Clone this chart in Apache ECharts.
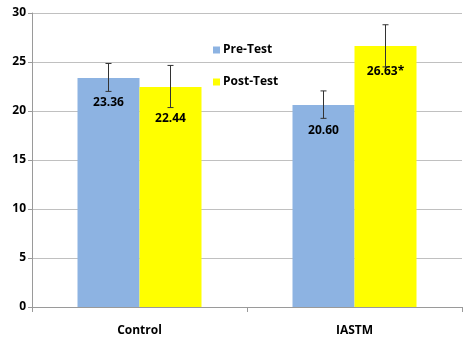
<!DOCTYPE html>
<html>
<head>
<meta charset="utf-8">
<script src="https://cdn.jsdelivr.net/npm/echarts@6/dist/echarts.min.js"></script>
<style>html,body{margin:0;padding:0;background:#fff;}#c{width:470px;height:344px;}</style>
</head>
<body>
<div id="c"></div>
<script>
var categories = ["Control", "IASTM"];
var seriesNames = ["Pre-Test", "Post-Test"];
var preValues = [23.36, 20.60];
var postValues = [22.44, 26.63];
var preLabels = ["23.36", "20.60"];
var postLabels = ["22.44", "26.63*"];
var preErrLow = [22.0, 19.25];
var preErrHigh = [24.85, 22.05];
var postErrLow = [20.35, 24.5];
var postErrHigh = [24.65, 28.8];
var yTicks = [0, 5, 10, 15, 20, 25, 30];

var FONT = "'Open Sans', 'Noto Sans', sans-serif";
var BAR_W = 62;

function errSeries(low, high, offset) {
  return {
    type: 'custom',
    silent: true,
    z: 10,
    data: categories.map(function (c, i) { return [i, low[i], high[i]]; }),
    renderItem: function (params, api) {
      var lo = api.coord([api.value(0), api.value(1)]);
      var hi = api.coord([api.value(0), api.value(2)]);
      var x = lo[0] + offset;
      var cap = 3;
      var st = { stroke: '#333', lineWidth: 1 };
      return {
        type: 'group',
        children: [
          { type: 'line', shape: { x1: x, y1: lo[1], x2: x, y2: hi[1] }, style: st },
          { type: 'line', shape: { x1: x - cap, y1: lo[1], x2: x + cap, y2: lo[1] }, style: st },
          { type: 'line', shape: { x1: x - cap, y1: hi[1], x2: x + cap, y2: hi[1] }, style: st }
        ]
      };
    }
  };
}

var labelBase = {
  show: true,
  position: 'insideTop',
  distance: 19,
  color: '#000',
  fontWeight: 'bold',
  fontSize: 12,
  fontFamily: FONT
};

var chart = echarts.init(document.getElementById('c'), null, { renderer: 'canvas' });
chart.setOption({
  animation: false,
  backgroundColor: '#fff',
  grid: { left: 32, right: 8, top: 13, bottom: 37, containLabel: false },
  legend: {
    orient: 'vertical',
    left: 208,
    top: 39,
    itemWidth: 7,
    itemHeight: 7,
    itemGap: 20,
    icon: 'rect',
    data: seriesNames,
    textStyle: { fontFamily: FONT, fontWeight: 'bold', fontSize: 12, color: '#000', padding: [0, 0, 0, -2] }
  },
  xAxis: {
    type: 'category',
    data: categories,
    axisLine: { show: true, lineStyle: { color: '#9a9a9a' } },
    axisTick: { show: true, length: 5, lineStyle: { color: '#9a9a9a' } },
    axisLabel: { margin: 18, fontFamily: FONT, fontWeight: 'bold', fontSize: 12, color: '#000' }
  },
  yAxis: {
    type: 'value',
    min: yTicks[0],
    max: yTicks[yTicks.length - 1],
    interval: 5,
    axisLine: { show: true, lineStyle: { color: '#9a9a9a' } },
    axisTick: { show: true, length: 4, lineStyle: { color: '#9a9a9a' } },
    axisLabel: { margin: 6, fontFamily: FONT, fontWeight: 'bold', fontSize: 12, color: '#000' },
    splitLine: { show: true, lineStyle: { color: '#c0c0c0' } }
  },
  series: [
    {
      name: seriesNames[0],
      type: 'bar',
      barWidth: BAR_W,
      barGap: '0%',
      itemStyle: { color: '#8db3e2' },
      data: preValues.map(function (v, i) {
        return { value: v, label: Object.assign({}, labelBase, { formatter: preLabels[i] }) };
      })
    },
    {
      name: seriesNames[1],
      type: 'bar',
      barWidth: BAR_W,
      barGap: '0%',
      itemStyle: { color: '#ffff00' },
      data: postValues.map(function (v, i) {
        return { value: v, label: Object.assign({}, labelBase, { formatter: postLabels[i], distance: i === 0 ? 25 : 20 }) };
      })
    },
    errSeries(preErrLow, preErrHigh, -BAR_W / 2),
    errSeries(postErrLow, postErrHigh, BAR_W / 2)
  ]
});
</script>
</body>
</html>
